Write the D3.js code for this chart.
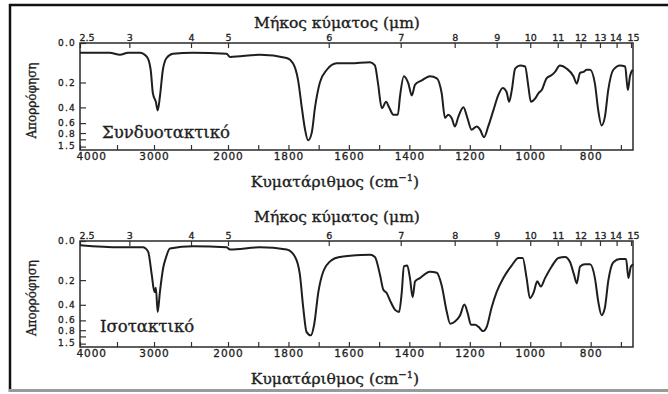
<!DOCTYPE html>
<html>
<head>
<meta charset="utf-8">
<script src="https://cdn.jsdelivr.net/npm/d3@7/dist/d3.min.js"></script>
<style>
  html, body { margin: 0; padding: 0; background: #fff; }
  svg { display: block; }
</style>
</head>
<body>
<svg id="chart" width="668" height="394"></svg>
<script>
// ---------- DATA ----------
// Wavenumbers (cm-1) and transmittance fraction
const wavenumberSyndio = [4000,3600,3460,3350,3190,3095,3045,3015,2975,2950,2920,2880,2830,2745,2475,2020,1993,1894,1806,1785,1768,1756,1745,1735,1723,1712,1696,1673,1640,1596,1530,1514,1504,1491,1477,1467,1453,1438,1431,1418,1403,1392,1381,1359,1332,1309,1293,1282,1271,1260,1249,1238,1221,1208,1194,1177,1166,1153,1139,1122,1106,1091,1078,1070,1061,1050,1034,1017,1006,998,984,973,962,946,929,918,902,879,857,846,835,824,813,802,786,775,764,753,742,725,703,686,677,670,661];
const transSyndio = [0.91,0.91,0.89,0.91,0.91,0.87,0.75,0.53,0.45,0.37,0.50,0.75,0.86,0.90,0.91,0.90,0.87,0.89,0.86,0.81,0.65,0.40,0.19,0.09,0.16,0.40,0.63,0.75,0.81,0.81,0.82,0.79,0.63,0.39,0.45,0.40,0.33,0.33,0.50,0.69,0.62,0.51,0.61,0.65,0.69,0.67,0.53,0.30,0.33,0.30,0.22,0.31,0.40,0.30,0.19,0.22,0.19,0.12,0.22,0.37,0.51,0.58,0.54,0.45,0.56,0.76,0.79,0.78,0.59,0.45,0.48,0.53,0.56,0.67,0.70,0.73,0.79,0.76,0.69,0.62,0.72,0.73,0.75,0.75,0.62,0.37,0.23,0.31,0.56,0.75,0.79,0.78,0.56,0.69,0.75];

const wavenumberIso = [4000,3460,3150,3080,3030,2995,2975,2950,2920,2875,2840,2785,2470,2020,1993,1894,1806,1778,1762,1751,1740,1726,1715,1701,1685,1657,1629,1596,1530,1514,1497,1486,1475,1464,1447,1434,1425,1418,1407,1398,1389,1381,1365,1332,1309,1293,1276,1265,1249,1232,1218,1207,1196,1182,1171,1156,1144,1128,1111,1089,1061,1039,1025,1012,1001,988,977,965,951,929,907,885,868,855,846,835,819,802,786,775,764,753,742,725,703,683,675,667,659];
const transIso = [0.96,0.94,0.94,0.90,0.68,0.52,0.56,0.33,0.52,0.75,0.84,0.93,0.95,0.94,0.92,0.94,0.92,0.85,0.68,0.37,0.14,0.11,0.21,0.52,0.71,0.82,0.85,0.86,0.87,0.85,0.68,0.54,0.51,0.44,0.35,0.33,0.52,0.76,0.77,0.65,0.47,0.62,0.65,0.71,0.70,0.58,0.33,0.22,0.24,0.30,0.40,0.32,0.21,0.21,0.19,0.15,0.19,0.37,0.52,0.65,0.77,0.84,0.84,0.65,0.46,0.52,0.62,0.57,0.65,0.76,0.84,0.85,0.80,0.68,0.60,0.76,0.78,0.78,0.65,0.43,0.30,0.37,0.62,0.80,0.83,0.83,0.65,0.76,0.78];

// Tick labels
const wavenumberMajor = [4000,3000,2000,1800,1600,1400,1200,1000,800];
const wavenumberMinor = [3500,2500,1900,1700,1500,1300,1100,900,700];
const wavelengthTicks = [2.5,3,4,5,6,7,8,9,10,11,12,13,14,15];
const absorbanceTicks = [0.0,0.2,0.4,0.6,0.8,1.0,1.5];
const absorbanceLabels = ["0.0","0.2","0.4","0.6","0.8","","1.5"];

const panelNames = ["Συνδυοτακτικό","Ισοτακτικό"];
const titleTop = "Μήκος κύματος (μm)";
const titleBottom = "Κυματάριθμος (cm";
const yTitle = "Απορρόφηση";

// ---------- LAYOUT ----------
const svg = d3.select("#chart");
const ink = "#1e1e1e";
const left = 80, right = 633;

// frame
svg.append("line").attr("x1",9).attr("x2",668).attr("y1",5).attr("y2",5).attr("stroke","#111").attr("stroke-width",2.5);
svg.append("line").attr("x1",10).attr("x2",10).attr("y1",4).attr("y2",392).attr("stroke","#111").attr("stroke-width",2.5);
svg.append("line").attr("x1",9).attr("x2",668).attr("y1",390.5).attr("y2",390.5).attr("stroke","#9a9a9a").attr("stroke-width",3);

const x = d3.scaleLinear().domain([4000,2000,660]).range([80,228,right]);

const panels = [
  {top:43, bottom:150, wn:wavenumberSyndio, tr:transSyndio, name:panelNames[0], titleY:28, xTitleY:187, nameX:102, nameY:138},
  {top:241, bottom:347, wn:wavenumberIso, tr:transIso, name:panelNames[1], titleY:222, xTitleY:384, nameX:100, nameY:332}
];

const serifText = sel => sel.style("font-family","DejaVu Serif").attr("fill",ink)
  .attr("stroke",ink).attr("stroke-width",0.35);

panels.forEach(p => {
  const g = svg.append("g");
  const y = d3.scaleLinear().domain([0,1]).range([p.bottom, p.top]);

  // bottom axis (wavenumber)
  const gb = g.append("g").attr("transform",`translate(0,${p.bottom})`)
    .call(d3.axisBottom(x).tickValues(wavenumberMajor).tickSize(-5).tickPadding(3).tickFormat(d3.format("d")));
  g.append("g").attr("transform",`translate(0,${p.bottom})`)
    .call(d3.axisBottom(x).tickValues(wavenumberMinor).tickSize(-5).tickFormat(""));
  gb.selectAll("text").style("font-size","10.5px").style("letter-spacing","0.9px");
  gb.selectAll("text").filter(d => d === 4000).attr("text-anchor","start").attr("x",-4);

  // top axis (wavelength)
  const gt = g.append("g").attr("transform",`translate(0,${p.top})`)
    .call(d3.axisTop(x).tickValues(wavelengthTicks.map(m => 10000/m)).tickSize(-5).tickPadding(2)
      .tickFormat(d => String(+(10000/d).toFixed(1))));
  gt.selectAll("text").style("font-size","9.5px").style("letter-spacing","0px");
  gt.selectAll("text").filter((d,i) => i === 0).attr("text-anchor","start").attr("x",-1);
  gt.selectAll("text").filter((d,i) => i === wavelengthTicks.length - 1).attr("x",2);
  gt.selectAll("text").filter((d,i) => i === wavelengthTicks.length - 2).attr("x",-1);

  // left axis (absorbance on transmittance scale)
  const gl = g.append("g").attr("transform",`translate(${left},0)`)
    .call(d3.axisLeft(y).tickValues(absorbanceTicks.map(a => Math.pow(10,-a))).tickSize(-6).tickPadding(4)
      .tickFormat((d,i) => absorbanceLabels[i]));
  gl.selectAll("text").style("font-size","9px").style("letter-spacing","1.2px");
  gl.selectAll("text").filter((d,i) => i === 3).attr("dy","0.22em");
  gl.selectAll("text").filter((d,i) => i === 4).attr("dy","0.40em");
  gl.selectAll("text").filter((d,i) => i === 6).attr("dy","0.25em");

  g.selectAll(".domain").remove();
  g.selectAll(".tick line").attr("stroke","#333").attr("stroke-width",1.2);
  g.selectAll(".tick text").attr("fill",ink).attr("stroke",ink).attr("stroke-width",0.3).style("font-family","DejaVu Sans");

  // box
  g.append("rect").attr("x",left).attr("y",p.top).attr("width",right-left).attr("height",p.bottom-p.top)
    .attr("fill","none").attr("stroke","#2a2a2a").attr("stroke-width",1.5);

  // spectrum
  const line = d3.line().x(d => x(d[0])).y(d => y(d[1])).curve(d3.curveMonotoneX);
  g.append("path").datum(p.wn.map((w,i) => [w, p.tr[i]]))
    .attr("d", line).attr("fill","none").attr("stroke",ink).attr("stroke-width",2).attr("stroke-linejoin","round");

  // texts
  g.append("text").attr("x",337).attr("y",p.titleY).attr("text-anchor","middle")
    .style("font-size","15.5px").call(serifText).text(titleTop);
  const xt = g.append("text").attr("x",335).attr("y",p.xTitleY).attr("text-anchor","middle")
    .style("font-size","15.5px").call(serifText);
  xt.append("tspan").text(titleBottom);
  xt.append("tspan").attr("dy",-6).style("font-size","10px").text("−1");
  xt.append("tspan").attr("dy",6).text(")");
  g.append("text").attr("transform",`translate(36,${(p.top+p.bottom)/2 + 4}) rotate(-90)`).attr("text-anchor","middle")
    .style("font-size","12px").call(serifText).text(yTitle);
  g.append("text").attr("x",p.nameX).attr("y",p.nameY)
    .style("font-size","16.5px").call(serifText).text(p.name);
});
</script>
</body>
</html>
